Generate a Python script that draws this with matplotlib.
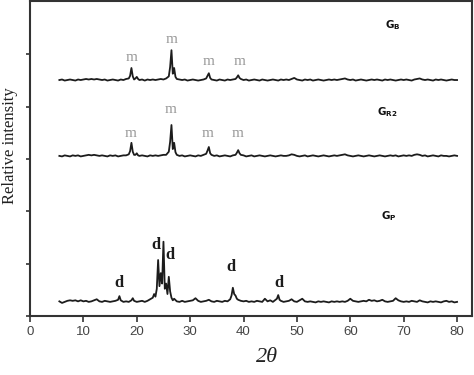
import matplotlib
matplotlib.use("Agg")
import matplotlib.pyplot as plt
import numpy as np

# ---------------------------
# data
# ---------------------------
# 2theta grid shared by the two "m" patterns
two_theta_m = [5.5, 6.0, 6.5, 7.0, 7.5, 8.0, 8.5, 9.0, 9.5, 10.0,
               10.5, 11.0, 11.5, 12.0, 12.5, 13.0, 13.5, 14.0, 14.5, 15.0,
               15.5, 16.0, 16.5, 17.0, 17.5, 18.0, 18.5, 18.75, 19.0, 19.25,
               19.5, 19.75, 20.0, 20.25, 20.5, 21.0, 21.5, 22.0, 22.5, 23.0,
               23.5, 24.0, 24.5, 25.0, 25.5, 26.0, 26.25, 26.5, 26.75, 27.0,
               27.25, 27.5, 28.0, 28.5, 29.0, 29.5, 30.0, 30.5, 31.0, 31.5,
               32.0, 32.5, 33.0, 33.25, 33.5, 33.75, 34.0, 34.5, 35.0, 35.5,
               36.0, 36.5, 37.0, 37.5, 38.0, 38.5, 38.75, 39.0, 39.25, 39.5,
               40.0, 40.5, 41.0, 41.5, 42.0, 42.5, 43.0, 43.5, 44.0, 44.5,
               45.0, 45.5, 46.0, 46.5, 47.0, 47.5, 48.0, 48.5, 49.0, 49.5,
               50.0, 50.5, 51.0, 51.5, 52.0, 52.5, 53.0, 53.5, 54.0, 54.5,
               55.0, 55.5, 56.0, 56.5, 57.0, 57.5, 58.0, 58.5, 59.0, 59.5,
               60.0, 60.5, 61.0, 61.5, 62.0, 62.5, 63.0, 63.5, 64.0, 64.5,
               65.0, 65.5, 66.0, 66.5, 67.0, 67.5, 68.0, 68.5, 69.0, 69.5,
               70.0, 70.5, 71.0, 71.5, 72.0, 72.5, 73.0, 73.5, 74.0, 74.5,
               75.0, 75.5, 76.0, 76.5, 77.0, 77.5, 78.0, 78.5, 79.0, 79.5,
               80.0]

int_gb = [0.00, 0.01, -0.01, 0.00, 0.01, 0.00, -0.01, 0.01, 0.00, 0.01,
          0.02, 0.01, 0.02, 0.01, 0.02, 0.01, 0.00, 0.01, -0.01, 0.00,
          0.01, 0.00, -0.01, 0.01, 0.00, 0.02, 0.03, 0.08, 0.23, 0.07,
          0.01, 0.03, 0.06, 0.02, 0.00, 0.01, -0.01, 0.01, 0.00, 0.01,
          0.00, 0.01, 0.02, 0.01, 0.03, 0.07, 0.25, 0.57, 0.12, 0.23,
          0.06, 0.02, 0.01, 0.00, 0.01, -0.01, 0.00, 0.01, 0.00, -0.01,
          0.00, 0.01, 0.03, 0.08, 0.13, 0.04, 0.01, 0.00, -0.01, 0.01,
          0.00, -0.01, 0.01, 0.00, 0.01, 0.02, 0.05, 0.09, 0.04, 0.02,
          0.00, 0.01, -0.01, 0.00, 0.01, 0.00, -0.01, 0.01, 0.00, -0.01,
          0.00, 0.01, 0.00, -0.01, 0.01, 0.00, 0.01, 0.00, 0.02, 0.04,
          0.01, 0.00, -0.01, 0.01, 0.00, 0.01, -0.01, 0.00, 0.01, 0.00,
          -0.01, 0.00, 0.01, 0.00, 0.01, 0.00, 0.01, 0.02, 0.03, 0.01,
          0.00, 0.01, -0.01, 0.00, 0.01, 0.00, -0.01, 0.00, 0.01, 0.00,
          0.01, 0.00, -0.01, 0.01, 0.00, 0.01, 0.00, -0.01, 0.00, 0.01,
          0.00, 0.01, 0.00, -0.01, 0.01, 0.02, 0.03, 0.01, 0.00, 0.01,
          0.00, -0.01, 0.01, 0.00, 0.01, 0.00, -0.01, 0.00, 0.01, 0.00,
          0.00]

int_gr2 = [0.00, -0.01, 0.01, 0.00, -0.01, 0.01, 0.00, 0.01, -0.01, 0.00,
           0.01, 0.02, 0.01, 0.02, 0.01, 0.00, 0.01, 0.00, -0.01, 0.01,
           0.00, 0.01, -0.01, 0.00, 0.01, 0.01, 0.03, 0.09, 0.25, 0.08,
           0.02, 0.02, 0.05, 0.01, 0.00, 0.01, 0.00, -0.01, 0.01, 0.00,
           0.01, 0.00, 0.01, 0.02, 0.02, 0.08, 0.27, 0.59, 0.13, 0.25,
           0.07, 0.02, 0.00, 0.01, -0.01, 0.00, 0.01, 0.00, -0.01, 0.01,
           0.00, 0.02, 0.04, 0.10, 0.17, 0.05, 0.02, 0.00, 0.01, -0.01,
           0.00, 0.01, 0.00, -0.01, 0.01, 0.02, 0.06, 0.11, 0.05, 0.02,
           0.01, -0.01, 0.00, 0.01, -0.01, 0.00, 0.01, 0.00, -0.01, 0.00,
           0.01, 0.00, -0.01, 0.00, 0.01, 0.00, 0.00, 0.01, 0.03, 0.02,
           0.00, -0.01, 0.00, 0.01, -0.01, 0.00, 0.01, 0.00, -0.01, 0.00,
           0.01, 0.00, -0.01, 0.00, 0.01, 0.00, 0.01, 0.02, 0.03, 0.01,
           0.00, -0.01, 0.00, 0.01, 0.00, -0.01, 0.00, 0.01, 0.00, -0.01,
           0.00, 0.01, 0.00, -0.01, 0.00, 0.01, 0.00, 0.01, -0.01, 0.00,
           0.01, 0.00, 0.01, 0.00, 0.02, 0.03, 0.02, 0.00, 0.01, -0.01,
           0.00, 0.01, 0.00, -0.01, 0.01, 0.00, 0.00, -0.01, 0.00, 0.01,
           0.00]

two_theta_p = [5.5, 6.0, 6.5, 7.0, 7.5, 8.0, 8.5, 9.0, 9.5, 10.0,
               10.5, 11.0, 11.5, 12.0, 12.5, 13.0, 13.5, 14.0, 14.5, 15.0,
               15.5, 16.0, 16.5, 16.75, 17.0, 17.5, 18.0, 18.5, 19.0, 19.25,
               19.5, 20.0, 20.5, 21.0, 21.5, 22.0, 22.5, 23.0, 23.25, 23.5,
               23.75, 24.0, 24.25, 24.5, 24.75, 25.0, 25.25, 25.5, 25.75, 26.0,
               26.25, 26.5, 26.75, 27.0, 27.5, 28.0, 28.5, 29.0, 29.5, 30.0,
               30.5, 31.0, 31.5, 32.0, 32.5, 33.0, 33.5, 34.0, 34.5, 35.0,
               35.5, 36.0, 36.5, 37.0, 37.5, 37.75, 38.0, 38.25, 38.5, 38.75,
               39.0, 39.5, 40.0, 40.5, 41.0, 41.5, 42.0, 42.5, 43.0, 43.5,
               44.0, 44.5, 45.0, 45.5, 46.0, 46.25, 46.5, 46.75, 47.0, 47.5,
               48.0, 48.5, 49.0, 49.5, 50.0, 50.5, 51.0, 51.5, 52.0, 52.5,
               53.0, 53.5, 54.0, 54.5, 55.0, 55.5, 56.0, 56.5, 57.0, 57.5,
               58.0, 58.5, 59.0, 59.5, 60.0, 60.5, 61.0, 61.5, 62.0, 62.5,
               63.0, 63.5, 64.0, 64.5, 65.0, 65.5, 66.0, 66.5, 67.0, 67.5,
               68.0, 68.5, 69.0, 69.5, 70.0, 70.5, 71.0, 71.5, 72.0, 72.5,
               73.0, 73.5, 74.0, 74.5, 75.0, 75.5, 76.0, 76.5, 77.0, 77.5,
               78.0, 78.5, 79.0, 79.5, 80.0]

int_gp = [0.01, -0.02, 0.00, 0.02, 0.03, 0.02, 0.03, 0.01, 0.03, 0.01,
          0.02, 0.00, 0.01, 0.03, 0.05, 0.01, 0.00, 0.02, 0.01, 0.00,
          0.01, 0.02, 0.04, 0.11, 0.03, 0.00, 0.01, 0.00, 0.03, 0.07,
          0.02, 0.00, 0.01, 0.02, 0.00, 0.02, 0.05, 0.08, 0.15, 0.10,
          0.25, 0.80, 0.30, 0.55, 0.35, 1.15, 0.25, 0.35, 0.15, 0.48,
          0.20, 0.08, 0.03, 0.06, 0.01, 0.00, 0.02, 0.00, 0.01, 0.02,
          0.03, 0.07, 0.02, 0.00, 0.01, 0.02, 0.04, 0.01, 0.00, 0.02,
          0.01, 0.00, 0.02, 0.01, 0.05, 0.12, 0.27, 0.15, 0.12, 0.06,
          0.04, 0.02, 0.01, 0.02, 0.00, 0.01, 0.00, 0.02, 0.01, 0.00,
          0.06, 0.01, 0.03, 0.00, 0.04, 0.06, 0.13, 0.04, 0.02, 0.00,
          0.01, 0.02, 0.05, 0.01, 0.00, 0.03, 0.06, 0.01, 0.00, 0.01,
          0.00, -0.01, 0.01, 0.00, 0.01, 0.00, -0.01, 0.01, 0.00, 0.01,
          0.00, 0.01, 0.00, 0.02, 0.06, 0.02, 0.01, 0.00, 0.01, 0.02,
          0.01, 0.04, 0.02, 0.03, 0.01, 0.02, 0.04, 0.01, 0.00, 0.01,
          0.02, 0.07, 0.03, 0.01, 0.00, 0.01, 0.00, 0.02, 0.01, 0.00,
          0.03, 0.01, 0.00, -0.01, 0.01, 0.00, 0.01, 0.00, -0.01, 0.01,
          0.02, 0.00, 0.01, -0.01, 0.00]

# vertical offsets of the stacked patterns
offset_gb = 4.51
offset_gr2 = 3.06
offset_gp = 0.27

# peak labels (2theta, y)
m_labels_gb = [(19.0, 4.95), (26.5, 5.28), (33.5, 4.86), (39.2, 4.86)]
m_labels_gr2 = [(18.8, 3.48), (26.3, 3.94), (33.2, 3.48), (38.9, 3.48)]
d_labels_gp = [(16.7, 0.63), (23.6, 1.36), (26.3, 1.17), (37.6, 0.94), (46.7, 0.63)]

sample_names = [r"$\mathbf{G_{B}}$", r"$\mathbf{G_{R2}}$", r"$\mathbf{G_{P}}$"]
sample_pos = [(68.0, 5.56), (66.9, 3.90), (67.3, 1.91)]

x_ticks = [0, 10, 20, 30, 40, 50, 60, 70, 80]

# ---------------------------
# plot
# ---------------------------
plt.rcParams["mathtext.fontset"] = "dejavusans"

fig = plt.figure(figsize=(4.74, 3.75), dpi=100)
ax = fig.add_axes([0.0633, 0.1573, 0.9325, 0.84])

line_kw = dict(color="#1c1c1c", lw=1.3)
ax.plot(two_theta_m, np.array(int_gb) + offset_gb, **line_kw)
ax.plot(two_theta_m, np.array(int_gr2) + offset_gr2, **line_kw)
ax.plot(two_theta_p, np.array(int_gp) + offset_gp, **line_kw)

for x, y in m_labels_gb + m_labels_gr2:
    ax.text(x, y, "m", color="#9a9a9a", fontsize=11, family="Liberation Serif",
            ha="center", va="center")
for x, y in d_labels_gp:
    ax.text(x, y, "d", color="#1c1c1c", fontsize=12, family="Liberation Serif",
            fontweight="bold", ha="center", va="center")
for name, (x, y) in zip(sample_names, sample_pos):
    ax.text(x, y, name, fontsize=7.5, color="#111111", ha="center", va="center")

ax.set_xlim(0, 82.8)
ax.set_ylim(0, 6.02)
ax.set_xticks(x_ticks)
ax.set_yticks([0, 1, 2, 3, 4, 5])
ax.set_yticklabels([])
ax.tick_params(axis="x", direction="out", length=4, width=1.2, colors="#333333",
               labelcolor="#444444", labelsize=9.5, pad=3)
ax.tick_params(axis="y", direction="out", length=3, width=1.2, colors="#333333")
for lab in ax.get_xticklabels():
    lab.set_family("Liberation Sans")

for sp in ax.spines.values():
    sp.set_linewidth(1.5)
    sp.set_color("#333333")

ax.set_ylabel("Relative intensity", family="Liberation Serif", fontsize=12, color="#222222")
ax.yaxis.set_label_coords(-0.028, 0.54)
# x axis title "2θ", centred below the ticks
fig.text(267 / 474, 1 - 358 / 375, "2θ", family="Liberation Serif", style="italic",
         fontsize=16, color="#222222", ha="center", va="center")

fig.savefig("out.png", dpi=100)
